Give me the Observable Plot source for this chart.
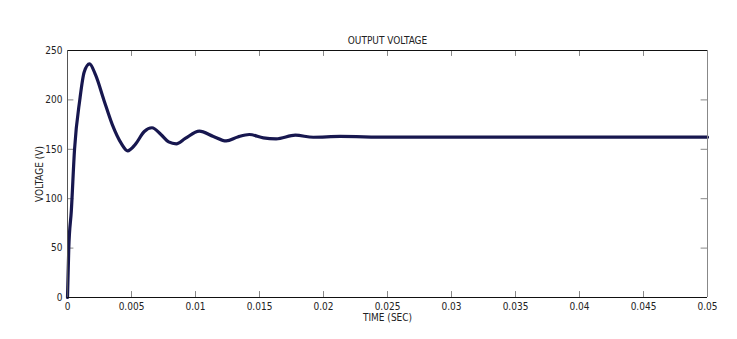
<!DOCTYPE html>
<html>
<head>
<meta charset="utf-8">
<script src="https://cdn.jsdelivr.net/npm/d3@7"></script>
<script src="https://cdn.jsdelivr.net/npm/@observablehq/plot@0.6"></script>
<style>
  html, body { margin: 0; padding: 0; background: #fff; }
  #chart svg { display: block; }
</style>
</head>
<body>
<div id="chart"></div>
<script>
const chartTitle = "OUTPUT VOLTAGE";
const xLabel = "TIME (SEC)";
const yLabel = "VOLTAGE (V)";

// Time (s) and voltage (V)
const timeSec = [0, 0.0001, 0.0003, 0.00055, 0.00096, 0.0013, 0.00172, 0.0022, 0.00284, 0.0035, 0.0042, 0.0047,
  0.0053, 0.006, 0.0066, 0.0073, 0.0079, 0.0085, 0.0092, 0.0103, 0.0114, 0.0124, 0.0133, 0.0142,
  0.0153, 0.0163, 0.0178, 0.0192, 0.0213, 0.025, 0.03, 0.035, 0.04, 0.045, 0.05];
const voltage = [0, 50, 88, 150, 200, 228, 236.5, 225, 200, 175, 156, 148.5,
  155, 168, 171.8, 165, 157.5, 155.5, 161, 168.4, 163, 158.5, 162.5, 165,
  161.5, 160.5, 164.3, 162.2, 163, 162.3, 162.3, 162.3, 162.3, 162.3, 162.3];

const xTicks = [0, 0.005, 0.01, 0.015, 0.02, 0.025, 0.03, 0.035, 0.04, 0.045, 0.05];
const yTicks = [0, 50, 100, 150, 200, 250];

const data = timeSec.map((t, i) => ({t, v: voltage[i]}));

const font = "'Liberation Sans Narrow', 'DejaVu Sans Condensed', 'Arial Narrow', sans-serif";
const tickColor = "#888";

const plot = Plot.plot({
  width: 737,
  height: 339,
  marginLeft: 67,
  marginRight: 30,
  marginTop: 50,
  marginBottom: 42,
  style: {fontFamily: font, fontSize: "10px", color: "#222", background: "#fff"},
  x: {domain: [0, 0.05]},
  y: {domain: [0, 250]},
  marks: [
    // inward tick marks on all four sides (length in data units ≈ 6px)
    Plot.ruleX(xTicks, {x: d => d, y1: 0, y2: 6, stroke: tickColor}),
    Plot.ruleX(xTicks, {x: d => d, y1: 244, y2: 250, stroke: tickColor}),
    Plot.ruleY(yTicks, {y: d => d, x1: 0, x2: 0.0005, stroke: tickColor}),
    Plot.ruleY(yTicks, {y: d => d, x1: 0.0495, x2: 0.05, stroke: tickColor}),
    Plot.line(data, {x: "t", y: "v", stroke: "#17174f", strokeWidth: 3.2, curve: "monotone-x"}),
    Plot.ruleY([0], {stroke: "#111"}),
    Plot.ruleY([250], {stroke: "#111"}),
    Plot.ruleX([0], {stroke: "#555"}),
    Plot.ruleX([0.05], {stroke: "#888"}),
    Plot.axisX(xTicks, {anchor: "bottom", tickSize: 0, tickPadding: 5,
      label: xLabel, labelAnchor: "center", labelArrow: "none", labelOffset: 23, tickFormat: d => String(d)}),
    Plot.axisY(yTicks, {anchor: "left", tickSize: 0, tickPadding: 5,
      label: yLabel, labelAnchor: "center", labelArrow: "none", labelOffset: 32}),
    Plot.text([chartTitle], {frameAnchor: "top", dy: -14, fontSize: 10, fill: "#222"})
  ]
});
document.getElementById("chart").appendChild(plot);
</script>
</body>
</html>
